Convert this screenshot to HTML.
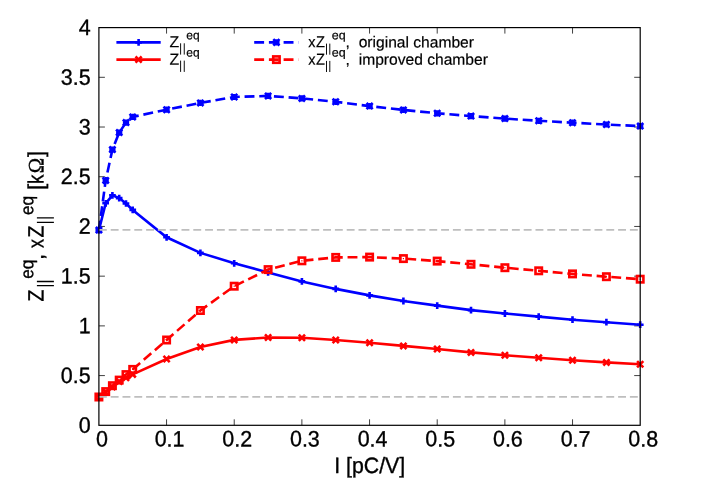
<!DOCTYPE html>
<html><head><meta charset="utf-8"><title>plot</title>
<style>html,body{margin:0;padding:0;background:#fff}svg{display:block;will-change:transform}text{font-family:"Liberation Sans",sans-serif;fill:#000;stroke:#000;stroke-width:0.35px;text-rendering:geometricPrecision}</style>
</head><body>
<svg width="706" height="494" viewBox="0 0 706 494">
<rect width="706" height="494" fill="#fff"/>
<path d="M166.56 425.3v-6.0M166.56 27.6v6.0M98.9 375.59h6.0M640.2 375.59h-6.0M234.23 425.3v-6.0M234.23 27.6v6.0M98.9 325.88h6.0M640.2 325.88h-6.0M301.89 425.3v-6.0M301.89 27.6v6.0M98.9 276.16h6.0M640.2 276.16h-6.0M369.55 425.3v-6.0M369.55 27.6v6.0M98.9 226.45h6.0M640.2 226.45h-6.0M437.21 425.3v-6.0M437.21 27.6v6.0M98.9 176.74h6.0M640.2 176.74h-6.0M504.88 425.3v-6.0M504.88 27.6v6.0M98.9 127.03h6.0M640.2 127.03h-6.0M572.54 425.3v-6.0M572.54 27.6v6.0M98.9 77.31h6.0M640.2 77.31h-6.0" stroke="#000" stroke-width="0.75" fill="none"/>
<g id="curves">
<polyline points="98.9,230.1 105.7,203.3 112.4,195.4 119.2,198.1 126.0,203.5 132.7,209.9 166.6,237.3 200.4,252.9 234.2,263.3 268.1,272.4 301.9,281.4 335.7,288.9 369.6,295.4 403.4,301.0 437.2,305.6 471.0,310.1 504.9,313.5 538.7,316.6 572.5,319.7 606.4,322.2 640.2,324.7" fill="none" stroke="#0000ff" stroke-width="2.6" stroke-linejoin="miter"/>
<path d="M95.6 230.1H102.2M98.9 226.8V233.4" stroke="#0000ff" stroke-width="2.6" fill="none"/><path d="M102.3 203.3H109.0M105.7 200.0V206.7" stroke="#0000ff" stroke-width="2.6" fill="none"/><path d="M109.1 195.4H115.8M112.4 192.1V198.8" stroke="#0000ff" stroke-width="2.6" fill="none"/><path d="M115.8 198.1H122.5M119.2 194.8V201.4" stroke="#0000ff" stroke-width="2.6" fill="none"/><path d="M122.6 203.5H129.3M126.0 200.2V206.8" stroke="#0000ff" stroke-width="2.6" fill="none"/><path d="M129.4 209.9H136.1M132.7 206.6V213.2" stroke="#0000ff" stroke-width="2.6" fill="none"/><path d="M163.2 237.3H169.9M166.6 234.0V240.7" stroke="#0000ff" stroke-width="2.6" fill="none"/><path d="M197.0 252.9H203.7M200.4 249.6V256.2" stroke="#0000ff" stroke-width="2.6" fill="none"/><path d="M230.9 263.3H237.6M234.2 259.9V266.7" stroke="#0000ff" stroke-width="2.6" fill="none"/><path d="M264.7 272.4H271.4M268.1 269.0V275.8" stroke="#0000ff" stroke-width="2.6" fill="none"/><path d="M298.5 281.4H305.2M301.9 278.0V284.8" stroke="#0000ff" stroke-width="2.6" fill="none"/><path d="M332.4 288.9H339.1M335.7 285.5V292.2" stroke="#0000ff" stroke-width="2.6" fill="none"/><path d="M366.2 295.4H372.9M369.6 292.0V298.8" stroke="#0000ff" stroke-width="2.6" fill="none"/><path d="M400.0 301.0H406.7M403.4 297.6V304.4" stroke="#0000ff" stroke-width="2.6" fill="none"/><path d="M433.9 305.6H440.6M437.2 302.2V309.0" stroke="#0000ff" stroke-width="2.6" fill="none"/><path d="M467.7 310.1H474.4M471.0 306.8V313.5" stroke="#0000ff" stroke-width="2.6" fill="none"/><path d="M501.5 313.5H508.2M504.9 310.1V316.9" stroke="#0000ff" stroke-width="2.6" fill="none"/><path d="M535.4 316.6H542.1M538.7 313.2V320.0" stroke="#0000ff" stroke-width="2.6" fill="none"/><path d="M569.2 319.7H575.9M572.5 316.3V323.1" stroke="#0000ff" stroke-width="2.6" fill="none"/><path d="M603.0 322.2H609.7M606.4 318.8V325.6" stroke="#0000ff" stroke-width="2.6" fill="none"/><path d="M636.9 324.7H643.6M640.2 321.3V328.1" stroke="#0000ff" stroke-width="2.6" fill="none"/>
<polyline points="98.9,397.0 105.7,392.0 112.4,386.9 119.2,381.6 126.0,377.8 132.7,374.4 166.6,359.0 200.4,347.0 234.2,339.9 268.1,337.5 301.9,337.8 335.7,340.0 369.6,342.8 403.4,345.9 437.2,349.0 471.0,352.4 504.9,355.2 538.7,357.7 572.5,360.2 606.4,362.4 640.2,364.3" fill="none" stroke="#ff0000" stroke-width="2.6" stroke-linejoin="miter"/>
<path d="M95.8 393.9L102.0 400.1M95.8 400.1L102.0 393.9" stroke="#ff0000" stroke-width="2.6" fill="none"/><path d="M102.6 388.9L108.8 395.1M102.6 395.1L108.8 388.9" stroke="#ff0000" stroke-width="2.6" fill="none"/><path d="M109.3 383.8L115.5 390.0M109.3 390.0L115.5 383.8" stroke="#ff0000" stroke-width="2.6" fill="none"/><path d="M116.1 378.5L122.3 384.7M116.1 384.7L122.3 378.5" stroke="#ff0000" stroke-width="2.6" fill="none"/><path d="M122.9 374.7L129.1 380.9M122.9 380.9L129.1 374.7" stroke="#ff0000" stroke-width="2.6" fill="none"/><path d="M129.6 371.3L135.8 377.5M129.6 377.5L135.8 371.3" stroke="#ff0000" stroke-width="2.6" fill="none"/><path d="M163.5 355.9L169.7 362.1M163.5 362.1L169.7 355.9" stroke="#ff0000" stroke-width="2.6" fill="none"/><path d="M197.3 343.9L203.5 350.1M197.3 350.1L203.5 343.9" stroke="#ff0000" stroke-width="2.6" fill="none"/><path d="M231.1 336.8L237.3 343.0M231.1 343.0L237.3 336.8" stroke="#ff0000" stroke-width="2.6" fill="none"/><path d="M265.0 334.4L271.2 340.6M265.0 340.6L271.2 334.4" stroke="#ff0000" stroke-width="2.6" fill="none"/><path d="M298.8 334.7L305.0 340.9M298.8 340.9L305.0 334.7" stroke="#ff0000" stroke-width="2.6" fill="none"/><path d="M332.6 336.9L338.8 343.1M332.6 343.1L338.8 336.9" stroke="#ff0000" stroke-width="2.6" fill="none"/><path d="M366.5 339.7L372.7 345.9M366.5 345.9L372.7 339.7" stroke="#ff0000" stroke-width="2.6" fill="none"/><path d="M400.3 342.8L406.5 349.0M400.3 349.0L406.5 342.8" stroke="#ff0000" stroke-width="2.6" fill="none"/><path d="M434.1 345.9L440.3 352.1M434.1 352.1L440.3 345.9" stroke="#ff0000" stroke-width="2.6" fill="none"/><path d="M467.9 349.3L474.1 355.5M467.9 355.5L474.1 349.3" stroke="#ff0000" stroke-width="2.6" fill="none"/><path d="M501.8 352.1L508.0 358.3M501.8 358.3L508.0 352.1" stroke="#ff0000" stroke-width="2.6" fill="none"/><path d="M535.6 354.6L541.8 360.8M535.6 360.8L541.8 354.6" stroke="#ff0000" stroke-width="2.6" fill="none"/><path d="M569.4 357.1L575.6 363.3M569.4 363.3L575.6 357.1" stroke="#ff0000" stroke-width="2.6" fill="none"/><path d="M603.3 359.3L609.5 365.5M603.3 365.5L609.5 359.3" stroke="#ff0000" stroke-width="2.6" fill="none"/><path d="M637.1 361.2L643.3 367.4M637.1 367.4L643.3 361.2" stroke="#ff0000" stroke-width="2.6" fill="none"/>
<polyline points="98.9,230.1 105.7,180.4 112.4,149.6 119.2,132.6 126.0,122.6 132.7,116.9 166.6,109.7 200.4,102.9 234.2,97.0 268.1,95.9 301.9,98.4 335.7,101.8 369.6,106.1 403.4,109.9 437.2,113.3 471.0,116.1 504.9,118.6 538.7,120.8 572.5,122.7 606.4,124.5 640.2,126.1" fill="none" stroke="#0000ff" stroke-width="2.6" stroke-dasharray="9.9 4.8" stroke-dashoffset="0.5" stroke-linejoin="miter"/>
<path d="M95.8 230.1H102.0M98.9 227.0V233.2" stroke="#0000ff" stroke-width="2.6" fill="none"/><path d="M95.8 227.0L102.0 233.2M95.8 233.2L102.0 227.0" stroke="#0000ff" stroke-width="2.6" fill="none"/><path d="M102.6 180.4H108.8M105.7 177.3V183.5" stroke="#0000ff" stroke-width="2.6" fill="none"/><path d="M102.6 177.3L108.8 183.5M102.6 183.5L108.8 177.3" stroke="#0000ff" stroke-width="2.6" fill="none"/><path d="M109.3 149.6H115.5M112.4 146.5V152.7" stroke="#0000ff" stroke-width="2.6" fill="none"/><path d="M109.3 146.5L115.5 152.7M109.3 152.7L115.5 146.5" stroke="#0000ff" stroke-width="2.6" fill="none"/><path d="M116.1 132.6H122.3M119.2 129.5V135.7" stroke="#0000ff" stroke-width="2.6" fill="none"/><path d="M116.1 129.5L122.3 135.7M116.1 135.7L122.3 129.5" stroke="#0000ff" stroke-width="2.6" fill="none"/><path d="M122.9 122.6H129.1M126.0 119.5V125.7" stroke="#0000ff" stroke-width="2.6" fill="none"/><path d="M122.9 119.5L129.1 125.7M122.9 125.7L129.1 119.5" stroke="#0000ff" stroke-width="2.6" fill="none"/><path d="M129.6 116.9H135.8M132.7 113.8V120.0" stroke="#0000ff" stroke-width="2.6" fill="none"/><path d="M129.6 113.8L135.8 120.0M129.6 120.0L135.8 113.8" stroke="#0000ff" stroke-width="2.6" fill="none"/><path d="M163.5 109.7H169.7M166.6 106.6V112.8" stroke="#0000ff" stroke-width="2.6" fill="none"/><path d="M163.5 106.6L169.7 112.8M163.5 112.8L169.7 106.6" stroke="#0000ff" stroke-width="2.6" fill="none"/><path d="M197.3 102.9H203.5M200.4 99.8V106.0" stroke="#0000ff" stroke-width="2.6" fill="none"/><path d="M197.3 99.8L203.5 106.0M197.3 106.0L203.5 99.8" stroke="#0000ff" stroke-width="2.6" fill="none"/><path d="M231.1 97.0H237.3M234.2 93.9V100.1" stroke="#0000ff" stroke-width="2.6" fill="none"/><path d="M231.1 93.9L237.3 100.1M231.1 100.1L237.3 93.9" stroke="#0000ff" stroke-width="2.6" fill="none"/><path d="M265.0 95.9H271.2M268.1 92.8V99.0" stroke="#0000ff" stroke-width="2.6" fill="none"/><path d="M265.0 92.8L271.2 99.0M265.0 99.0L271.2 92.8" stroke="#0000ff" stroke-width="2.6" fill="none"/><path d="M298.8 98.4H305.0M301.9 95.3V101.5" stroke="#0000ff" stroke-width="2.6" fill="none"/><path d="M298.8 95.3L305.0 101.5M298.8 101.5L305.0 95.3" stroke="#0000ff" stroke-width="2.6" fill="none"/><path d="M332.6 101.8H338.8M335.7 98.7V104.9" stroke="#0000ff" stroke-width="2.6" fill="none"/><path d="M332.6 98.7L338.8 104.9M332.6 104.9L338.8 98.7" stroke="#0000ff" stroke-width="2.6" fill="none"/><path d="M366.5 106.1H372.7M369.6 103.0V109.2" stroke="#0000ff" stroke-width="2.6" fill="none"/><path d="M366.5 103.0L372.7 109.2M366.5 109.2L372.7 103.0" stroke="#0000ff" stroke-width="2.6" fill="none"/><path d="M400.3 109.9H406.5M403.4 106.8V113.0" stroke="#0000ff" stroke-width="2.6" fill="none"/><path d="M400.3 106.8L406.5 113.0M400.3 113.0L406.5 106.8" stroke="#0000ff" stroke-width="2.6" fill="none"/><path d="M434.1 113.3H440.3M437.2 110.2V116.4" stroke="#0000ff" stroke-width="2.6" fill="none"/><path d="M434.1 110.2L440.3 116.4M434.1 116.4L440.3 110.2" stroke="#0000ff" stroke-width="2.6" fill="none"/><path d="M467.9 116.1H474.1M471.0 113.0V119.2" stroke="#0000ff" stroke-width="2.6" fill="none"/><path d="M467.9 113.0L474.1 119.2M467.9 119.2L474.1 113.0" stroke="#0000ff" stroke-width="2.6" fill="none"/><path d="M501.8 118.6H508.0M504.9 115.5V121.7" stroke="#0000ff" stroke-width="2.6" fill="none"/><path d="M501.8 115.5L508.0 121.7M501.8 121.7L508.0 115.5" stroke="#0000ff" stroke-width="2.6" fill="none"/><path d="M535.6 120.8H541.8M538.7 117.7V123.9" stroke="#0000ff" stroke-width="2.6" fill="none"/><path d="M535.6 117.7L541.8 123.9M535.6 123.9L541.8 117.7" stroke="#0000ff" stroke-width="2.6" fill="none"/><path d="M569.4 122.7H575.6M572.5 119.6V125.8" stroke="#0000ff" stroke-width="2.6" fill="none"/><path d="M569.4 119.6L575.6 125.8M569.4 125.8L575.6 119.6" stroke="#0000ff" stroke-width="2.6" fill="none"/><path d="M603.3 124.5H609.5M606.4 121.4V127.6" stroke="#0000ff" stroke-width="2.6" fill="none"/><path d="M603.3 121.4L609.5 127.6M603.3 127.6L609.5 121.4" stroke="#0000ff" stroke-width="2.6" fill="none"/><path d="M637.1 126.1H643.3M640.2 123.0V129.2" stroke="#0000ff" stroke-width="2.6" fill="none"/><path d="M637.1 123.0L643.3 129.2M637.1 129.2L643.3 123.0" stroke="#0000ff" stroke-width="2.6" fill="none"/>
<polyline points="98.9,397.0 105.7,391.6 112.4,385.7 119.2,380.1 126.0,374.6 132.7,369.4 166.6,340.0 200.4,310.5 234.2,286.2 268.1,269.6 301.9,260.8 335.7,257.4 369.6,257.1 403.4,258.6 437.2,261.1 471.0,264.3 504.9,267.7 538.7,270.8 572.5,273.9 606.4,276.7 640.2,279.2" fill="none" stroke="#ff0000" stroke-width="2.6" stroke-dasharray="9.9 4.8" stroke-dashoffset="0.5" stroke-linejoin="miter"/>
<rect x="95.7" y="393.8" width="6.4" height="6.4" fill="none" stroke="#ff0000" stroke-width="2.6"/><rect x="98.3" y="396.4" width="1.2" height="1.2" fill="#ff0000"/><rect x="102.5" y="388.4" width="6.4" height="6.4" fill="none" stroke="#ff0000" stroke-width="2.6"/><rect x="105.1" y="391.0" width="1.2" height="1.2" fill="#ff0000"/><rect x="109.2" y="382.5" width="6.4" height="6.4" fill="none" stroke="#ff0000" stroke-width="2.6"/><rect x="111.8" y="385.1" width="1.2" height="1.2" fill="#ff0000"/><rect x="116.0" y="376.9" width="6.4" height="6.4" fill="none" stroke="#ff0000" stroke-width="2.6"/><rect x="118.6" y="379.5" width="1.2" height="1.2" fill="#ff0000"/><rect x="122.8" y="371.4" width="6.4" height="6.4" fill="none" stroke="#ff0000" stroke-width="2.6"/><rect x="125.4" y="374.0" width="1.2" height="1.2" fill="#ff0000"/><rect x="129.5" y="366.2" width="6.4" height="6.4" fill="none" stroke="#ff0000" stroke-width="2.6"/><rect x="132.1" y="368.8" width="1.2" height="1.2" fill="#ff0000"/><rect x="163.4" y="336.8" width="6.4" height="6.4" fill="none" stroke="#ff0000" stroke-width="2.6"/><rect x="166.0" y="339.4" width="1.2" height="1.2" fill="#ff0000"/><rect x="197.2" y="307.3" width="6.4" height="6.4" fill="none" stroke="#ff0000" stroke-width="2.6"/><rect x="199.8" y="309.9" width="1.2" height="1.2" fill="#ff0000"/><rect x="231.0" y="283.0" width="6.4" height="6.4" fill="none" stroke="#ff0000" stroke-width="2.6"/><rect x="233.6" y="285.6" width="1.2" height="1.2" fill="#ff0000"/><rect x="264.9" y="266.4" width="6.4" height="6.4" fill="none" stroke="#ff0000" stroke-width="2.6"/><rect x="267.5" y="269.0" width="1.2" height="1.2" fill="#ff0000"/><rect x="298.7" y="257.6" width="6.4" height="6.4" fill="none" stroke="#ff0000" stroke-width="2.6"/><rect x="301.3" y="260.2" width="1.2" height="1.2" fill="#ff0000"/><rect x="332.5" y="254.2" width="6.4" height="6.4" fill="none" stroke="#ff0000" stroke-width="2.6"/><rect x="335.1" y="256.8" width="1.2" height="1.2" fill="#ff0000"/><rect x="366.4" y="253.9" width="6.4" height="6.4" fill="none" stroke="#ff0000" stroke-width="2.6"/><rect x="369.0" y="256.5" width="1.2" height="1.2" fill="#ff0000"/><rect x="400.2" y="255.4" width="6.4" height="6.4" fill="none" stroke="#ff0000" stroke-width="2.6"/><rect x="402.8" y="258.0" width="1.2" height="1.2" fill="#ff0000"/><rect x="434.0" y="257.9" width="6.4" height="6.4" fill="none" stroke="#ff0000" stroke-width="2.6"/><rect x="436.6" y="260.5" width="1.2" height="1.2" fill="#ff0000"/><rect x="467.8" y="261.1" width="6.4" height="6.4" fill="none" stroke="#ff0000" stroke-width="2.6"/><rect x="470.4" y="263.7" width="1.2" height="1.2" fill="#ff0000"/><rect x="501.7" y="264.5" width="6.4" height="6.4" fill="none" stroke="#ff0000" stroke-width="2.6"/><rect x="504.3" y="267.1" width="1.2" height="1.2" fill="#ff0000"/><rect x="535.5" y="267.6" width="6.4" height="6.4" fill="none" stroke="#ff0000" stroke-width="2.6"/><rect x="538.1" y="270.2" width="1.2" height="1.2" fill="#ff0000"/><rect x="569.3" y="270.7" width="6.4" height="6.4" fill="none" stroke="#ff0000" stroke-width="2.6"/><rect x="571.9" y="273.3" width="1.2" height="1.2" fill="#ff0000"/><rect x="603.2" y="273.5" width="6.4" height="6.4" fill="none" stroke="#ff0000" stroke-width="2.6"/><rect x="605.8" y="276.1" width="1.2" height="1.2" fill="#ff0000"/><rect x="637.0" y="276.0" width="6.4" height="6.4" fill="none" stroke="#ff0000" stroke-width="2.6"/><rect x="639.6" y="278.6" width="1.2" height="1.2" fill="#ff0000"/>
</g>
<line x1="98.9" y1="229.9" x2="640.2" y2="229.9" stroke="#bebebe" stroke-width="1.7" stroke-dasharray="7.9 3.9"/>
<line x1="98.9" y1="396.8" x2="640.2" y2="396.8" stroke="#bebebe" stroke-width="1.7" stroke-dasharray="7.9 3.9"/>
<line x1="116.4" y1="42.35" x2="160.70" y2="42.35" stroke="#0000ff" stroke-width="2.6"/>
<path d="M135.2 42.4H141.9M138.6 39.0V45.7" stroke="#0000ff" stroke-width="2.6" fill="none"/>
<line x1="116.4" y1="59.6" x2="160.70" y2="59.6" stroke="#ff0000" stroke-width="2.6"/>
<path d="M135.5 56.5L141.7 62.7M135.5 62.7L141.7 56.5" stroke="#ff0000" stroke-width="2.6" fill="none"/>
<line x1="254.2" y1="42.35" x2="298.50" y2="42.35" stroke="#0000ff" stroke-width="2.6" stroke-dasharray="9.9 4.8"/>
<path d="M273.3 42.4H279.5M276.4 39.2V45.5" stroke="#0000ff" stroke-width="2.6" fill="none"/><path d="M273.3 39.2L279.5 45.5M273.3 45.5L279.5 39.2" stroke="#0000ff" stroke-width="2.6" fill="none"/>
<line x1="254.2" y1="59.6" x2="298.50" y2="59.6" stroke="#ff0000" stroke-width="2.6" stroke-dasharray="9.9 4.8"/>
<rect x="273.2" y="56.4" width="6.4" height="6.4" fill="none" stroke="#ff0000" stroke-width="2.6"/><rect x="275.8" y="59.0" width="1.2" height="1.2" fill="#ff0000"/>
<rect x="98.9" y="27.6" width="541.30" height="397.70" fill="none" stroke="#000" stroke-width="1.2"/>
<text transform="translate(90.60 432.70) rotate(0.1) scale(0.967 1)" font-size="22.2" text-anchor="end">0</text>
<text transform="translate(90.60 382.99) rotate(0.1) scale(0.967 1)" font-size="22.2" text-anchor="end">0.5</text>
<text transform="translate(90.60 333.27) rotate(0.1) scale(0.967 1)" font-size="22.2" text-anchor="end">1</text>
<text transform="translate(90.60 283.56) rotate(0.1) scale(0.967 1)" font-size="22.2" text-anchor="end">1.5</text>
<text transform="translate(90.60 233.85) rotate(0.1) scale(0.967 1)" font-size="22.2" text-anchor="end">2</text>
<text transform="translate(90.60 184.14) rotate(0.1) scale(0.967 1)" font-size="22.2" text-anchor="end">2.5</text>
<text transform="translate(90.60 134.43) rotate(0.1) scale(0.967 1)" font-size="22.2" text-anchor="end">3</text>
<text transform="translate(90.60 84.71) rotate(0.1) scale(0.967 1)" font-size="22.2" text-anchor="end">3.5</text>
<text transform="translate(90.60 35.00) rotate(0.1) scale(0.967 1)" font-size="22.2" text-anchor="end">4</text>
<text transform="translate(101.90 446.40) rotate(0.1) scale(0.967 1)" font-size="22.2" text-anchor="middle">0</text>
<text transform="translate(169.56 446.40) rotate(0.1) scale(0.967 1)" font-size="22.2" text-anchor="middle">0.1</text>
<text transform="translate(237.23 446.40) rotate(0.1) scale(0.967 1)" font-size="22.2" text-anchor="middle">0.2</text>
<text transform="translate(304.89 446.40) rotate(0.1) scale(0.967 1)" font-size="22.2" text-anchor="middle">0.3</text>
<text transform="translate(372.55 446.40) rotate(0.1) scale(0.967 1)" font-size="22.2" text-anchor="middle">0.4</text>
<text transform="translate(440.21 446.40) rotate(0.1) scale(0.967 1)" font-size="22.2" text-anchor="middle">0.5</text>
<text transform="translate(507.88 446.40) rotate(0.1) scale(0.967 1)" font-size="22.2" text-anchor="middle">0.6</text>
<text transform="translate(575.54 446.40) rotate(0.1) scale(0.967 1)" font-size="22.2" text-anchor="middle">0.7</text>
<text transform="translate(643.20 446.40) rotate(0.1) scale(0.967 1)" font-size="22.2" text-anchor="middle">0.8</text>
<text transform="translate(369.70 473.00) rotate(0.1) scale(0.96 1)" font-size="22.2" text-anchor="middle">I [pC/V]</text>
<g transform="translate(43.6,301.5) rotate(-90)">
<text transform="translate(0.00 0.00) rotate(0.1) scale(0.88 1)" font-size="22.2" text-anchor="start">Z</text>
<text transform="translate(22.70 -10.40) rotate(0.1) scale(0.95 1)" font-size="18.2" text-anchor="start">eq</text>
<text transform="translate(41.40 0.00) rotate(0.1) scale(1.0 1)" font-size="22.2" text-anchor="start">,</text>
<text transform="translate(53.60 0.00) rotate(0.1) scale(0.8 1)" font-size="22.2" text-anchor="start">x</text>
<text transform="translate(64.10 0.00) rotate(0.1) scale(0.88 1)" font-size="22.2" text-anchor="start">Z</text>
<text transform="translate(86.40 -10.40) rotate(0.1) scale(0.95 1)" font-size="18.2" text-anchor="start">eq</text>
<text transform="translate(111.40 0.00) rotate(0.1) scale(1.0 1)" font-size="22.2" text-anchor="start">[</text>
<text transform="translate(117.40 0.00) rotate(0.1) scale(0.85 1)" font-size="22.2" text-anchor="start">k</text>
<text transform="translate(128.20 0.00) rotate(0.1) scale(0.93 1)" font-size="22.2" text-anchor="start" style="font-family:'Liberation Serif',serif">&#937;</text>
<text transform="translate(144.60 0.00) rotate(0.1) scale(1.0 1)" font-size="22.2" text-anchor="start">]</text>
<path d="M15.8 -6.7V10.3M20.0 -6.7V10.3" stroke="#000" stroke-width="1.3" fill="none"/>
<path d="M79.2 -6.7V10.3M83.6 -6.7V10.3" stroke="#000" stroke-width="1.3" fill="none"/>
</g>
<text transform="translate(169.45 47.35) rotate(0.1) scale(0.985 1)" font-size="16.1" text-anchor="start" style="stroke-width:0.2px">Z</text>
<path d="M180.6 43.3V54.6M184.25 43.3V54.6" stroke="#000" stroke-width="0.95" fill="none"/>
<text transform="translate(186.30 39.20) rotate(0.1) scale(1.0 1)" font-size="12.0" text-anchor="start" style="stroke-width:0.2px">eq</text>
<text transform="translate(308.30 47.35) rotate(0.1) scale(0.93 1)" font-size="15.6" text-anchor="start" style="stroke-width:0.2px">x</text>
<text transform="translate(316.00 47.35) rotate(0.1) scale(0.91 1)" font-size="16.1" text-anchor="start" style="stroke-width:0.2px">Z</text>
<path d="M326.5 43.6V54.7M329.8 43.6V54.7" stroke="#000" stroke-width="0.95" fill="none"/>
<text transform="translate(331.70 39.20) rotate(0.1) scale(1.04 1)" font-size="12.0" text-anchor="start" style="stroke-width:0.2px">eq</text>
<text transform="translate(345.40 47.35) rotate(0.1) scale(1.0 1)" font-size="15.6" text-anchor="start" style="stroke-width:0.2px">,</text>
<text transform="translate(169.45 64.65) rotate(0.1) scale(0.985 1)" font-size="16.1" text-anchor="start" style="stroke-width:0.2px">Z</text>
<path d="M180.6 60.599999999999994V71.9M184.25 60.599999999999994V71.9" stroke="#000" stroke-width="0.95" fill="none"/>
<text transform="translate(186.30 56.50) rotate(0.1) scale(1.0 1)" font-size="12.0" text-anchor="start" style="stroke-width:0.2px">eq</text>
<text transform="translate(308.30 64.65) rotate(0.1) scale(0.93 1)" font-size="15.6" text-anchor="start" style="stroke-width:0.2px">x</text>
<text transform="translate(316.00 64.65) rotate(0.1) scale(0.91 1)" font-size="16.1" text-anchor="start" style="stroke-width:0.2px">Z</text>
<path d="M326.5 60.900000000000006V72.0M329.8 60.900000000000006V72.0" stroke="#000" stroke-width="0.95" fill="none"/>
<text transform="translate(331.70 56.50) rotate(0.1) scale(1.04 1)" font-size="12.0" text-anchor="start" style="stroke-width:0.2px">eq</text>
<text transform="translate(345.40 64.65) rotate(0.1) scale(1.0 1)" font-size="15.6" text-anchor="start" style="stroke-width:0.2px">,</text>
<text transform="translate(358.70 47.35) rotate(0.1) scale(1.0 1)" font-size="15.6" text-anchor="start" style="stroke-width:0.2px">original chamber</text>
<text transform="translate(358.70 64.65) rotate(0.1) scale(1.0 1)" font-size="15.6" text-anchor="start" style="stroke-width:0.2px">improved chamber</text>
</svg></body></html>
